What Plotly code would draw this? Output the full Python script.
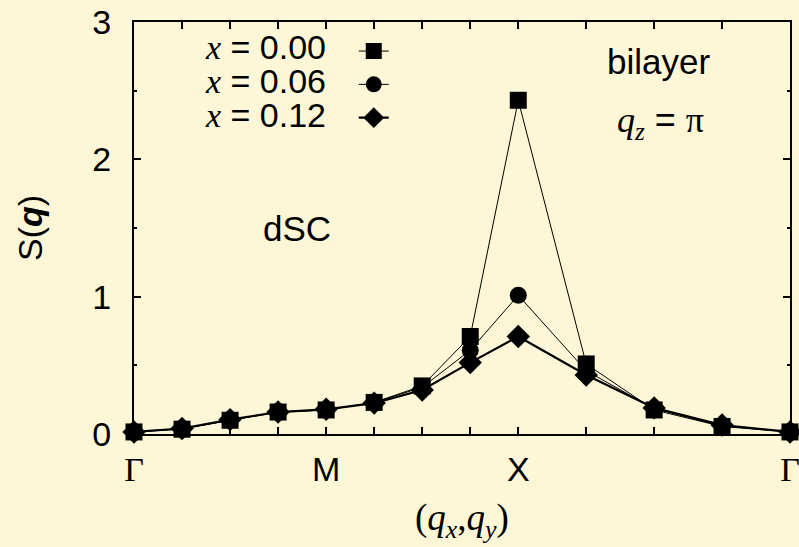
import numpy as np
import plotly.graph_objects as go

# Path Γ(0,0) -> M(π,0) -> X(π,π) -> Γ(0,0), in units of π/4
q_path = [(0, 0), (1, 0), (2, 0), (3, 0), (4, 0),
          (4, 1), (4, 2), (4, 3), (4, 4),
          (3, 3), (2, 2), (1, 1), (0, 0)]
point_labels = ["Γ", "", "", "", "M", "", "", "", "X", "", "", "", "Γ"]

s_x000 = [0.015, 0.035, 0.10, 0.16, 0.175, 0.23, 0.35, 0.71, 2.43, 0.51, 0.175, 0.055, 0.015]
s_x006 = [0.015, 0.04, 0.10, 0.16, 0.175, 0.23, 0.34, 0.61, 1.01, 0.46, 0.185, 0.06, 0.015]
s_x012 = [0.015, 0.04, 0.105, 0.16, 0.18, 0.225, 0.32, 0.52, 0.71, 0.43, 0.19, 0.065, 0.015]

series_labels = ["0.00", "0.06", "0.12"]

q = np.array(q_path, dtype=float) * np.pi / 4
steps = np.sqrt(((q[1:] - q[:-1]) ** 2).sum(axis=1))
xpos = np.concatenate([[0.0], np.cumsum(steps)])

BG = "#FDF7D8"
SANS = "Liberation Sans, Arial, sans-serif"
SERIF = "Liberation Serif, Times New Roman, serif"
FS = 34

def serif(t, italic=False):
    s = f"<span style='font-family:{SERIF}'>{t}</span>"
    return f"<i>{s}</i>" if italic else s

ticktext = [serif(t) if t == "Γ" else t for t in point_labels]

fig = go.Figure()
styles = [("square", 17, 1), ("circle", 17, 1), ("diamond", 18, 2.2)]
for vals, (sym, size, lw) in zip([s_x000, s_x006, s_x012], styles):
    fig.add_trace(go.Scatter(
        x=xpos, y=vals, mode="lines+markers", name="",
        line=dict(color="black", width=lw),
        marker=dict(symbol=sym, size=size, color="black"),
        cliponaxis=False, showlegend=True,
    ))

axis_common = dict(showline=True, linewidth=2, linecolor="black", mirror="allticks",
                   ticks="inside", tickcolor="black", tickwidth=1.5, ticklen=7,
                   showgrid=False, zeroline=False, automargin=False,
                   ticklabeloverflow="allow",
                   tickfont=dict(family=SANS, size=FS, color="black"))

fig.update_xaxes(range=[0, xpos[-1]], tickvals=xpos, ticktext=ticktext,
                 ticklabelstandoff=4, **axis_common)
fig.update_yaxes(range=[0, 3], tickvals=[0, 1, 2, 3], ticklabelstandoff=14,
                 minor=dict(tickvals=[0.5, 1.5, 2.5], ticks="inside", ticklen=3,
                            tickwidth=1.5, tickcolor="black"),
                 **axis_common)

def ann(x, y, text, size=FS, family=SANS, **kw):
    d = dict(xref="paper", yref="paper", x=x, y=y, text=text, showarrow=False,
             xanchor="center", yanchor="middle",
             font=dict(family=family, size=size, color="black"))
    d.update(kw)
    return d

annotations = []
row_y = [0.939, 0.857, 0.774]
for lab, yy in zip(series_labels, row_y):
    annotations.append(ann(0.296, yy, serif("x", True) + " = " + lab, xanchor="right"))
annotations += [
    ann(0.799, 0.903, "bilayer", size=35),
    ann(0.802, 0.757,
        serif("q", True) + "<sub>" + serif("z", True) + "</sub> = " + serif("π"), size=36),
    ann(0.248, 0.5, "dSC", size=35),
    ann(-0.1585, 0.5, "S(<b><i>q</i></b>)", textangle=-90),
    ann(0.5, -0.209,
        "(<i>q</i><sub><i>x</i></sub>,<i>q</i><sub><i>y</i></sub>)",
        size=37, family=SERIF),
]

fig.update_layout(
    width=799, height=547,
    margin=dict(l=134, r=9, t=22, b=113),
    paper_bgcolor=BG, plot_bgcolor=BG,
    annotations=annotations,
    legend=dict(x=0.335, y=0.982, xanchor="left", yanchor="top",
                bgcolor="rgba(0,0,0,0)", font=dict(size=23.3),
                itemsizing="trace"),
)

fig.write_html("out.html")
